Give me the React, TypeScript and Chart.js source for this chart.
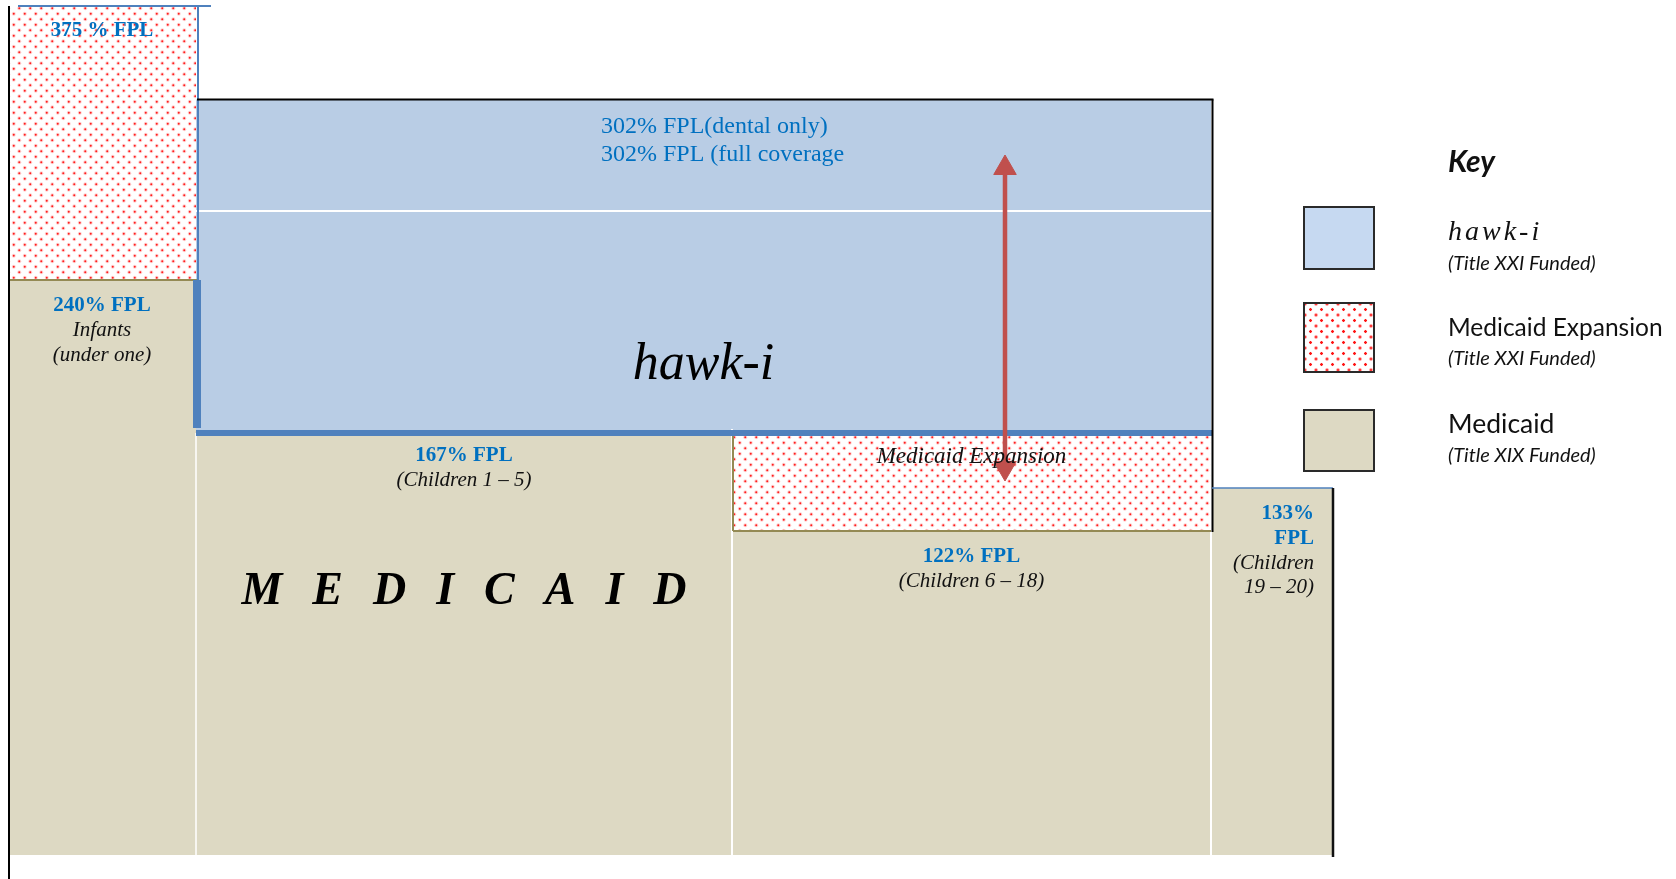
import React, { useEffect, useRef } from "react";
import { Chart, registerables } from "chart.js";

Chart.register(...registerables);

// ---- Data (schematic chart units; baseline = 0) ----
const groups = ["Infants", "Children 1 – 5", "Children 6 – 18", "Children 19 – 20"];
// column boundaries along the schematic width
const columnEdges = [0, 188, 724, 1203, 1325];
// top of the Medicaid (Title XIX) band per column
const medicaidTop = [575, 422, 324, 367];
// top of the Medicaid Expansion (Title XXI) band per column (null = none)
const expansionTop: (number | null)[] = [849, null, 422, null];
// hawk-i band (columns 1..2)
const hawkiColumns = [1, 2];
const hawkiBottom = 422;
const hawkiTop = 755.5;
const hawkiDentalSplit = 644;
// double arrow (x, bottom, top)
const arrowX = 997;
const arrowEnds = [387, 687];

// ---- Text ----
const fplLabels = ["240% FPL", "167% FPL", "122% FPL", "133%\nFPL"];
const groupLabels = ["Infants\n(under one)", "(Children 1 – 5)", "(Children 6 – 18)", "(Children\n19 – 20)"];
const expansionLabels = ["375 % FPL", "", "Medicaid Expansion", ""];
const hawkiNotes = ["302% FPL(dental only)", "302% FPL (full coverage"];
const programLabels = ["hawk-i", "MEDICAID"];

const legendTitle = "Key";
const legendNames = ["hawk-i", "Medicaid Expansion", "Medicaid"];
const legendSubs = ["(Title XXI Funded)", "(Title XXI Funded)", "(Title XIX Funded)"];

// ---- Styles ----
const BEIGE = "#ddd9c3";
const HAWK = "#b9cde5";
const HAWK_KEY = "#c6d9f1";
const BLUE_LINE = "#4f81bd";
const OLIVE = "#948a54";
const ARROW = "#c0504d";
const TEXT_BLUE = "#0070c0";
const SERIF = "'Liberation Serif', 'Times New Roman', serif";
const SANS = "Lato, 'Open Sans', sans-serif";

function makeDotPattern(): CanvasPattern | string {
  const tile = document.createElement("canvas");
  tile.width = 11;
  tile.height = 11;
  const c = tile.getContext("2d");
  if (!c) return "#ffcccc";
  c.fillStyle = "#ffffff";
  c.fillRect(0, 0, 11, 11);
  const dot = (x: number, y: number) => {
    c.fillStyle = "rgba(255,0,0,0.18)";
    c.beginPath();
    c.arc(x, y, 2.0, 0, Math.PI * 2);
    c.fill();
    c.fillStyle = "rgba(255,20,20,0.95)";
    c.beginPath();
    c.arc(x, y, 1.0, 0, Math.PI * 2);
    c.fill();
  };
  dot(2.75, 2.75);
  dot(8.25, 8.25);
  const p = c.createPattern(tile, "repeat");
  return p || "#ffcccc";
}

function rect(x0: number, x1: number, y0: number, y1: number, color: any, label: string) {
  return {
    label,
    data: [
      { x: x0, y: y1 },
      { x: x1, y: y1 },
    ],
    fill: { value: y0 },
    backgroundColor: color,
    borderColor: "rgba(0,0,0,0)",
    borderWidth: 0,
    pointRadius: 0,
    clip: false,
  };
}

function seg(x0: number, y0: number, x1: number, y1: number, color: string, width: number) {
  return {
    label: "",
    data: [
      { x: x0, y: y0 },
      { x: x1, y: y1 },
    ],
    fill: false,
    borderColor: color,
    borderWidth: width,
    borderCapStyle: "butt",
    pointRadius: 0,
    clip: false,
  };
}

const labelPlugin = {
  id: "schematicLabels",
  afterDatasetsDraw(chart: any) {
    const { ctx, scales } = chart;
    const xs = scales.x;
    const ys = scales.y;
    const px = (v: number) => xs.getPixelForValue(v);
    const py = (v: number) => ys.getPixelForValue(v);
    const lines = (
      text: string[],
      x: number,
      y: number,
      fonts: string[],
      colors: string[],
      align: CanvasTextAlign,
      lh: number
    ) => {
      text.forEach((t, i) => {
        ctx.font = fonts[i];
        ctx.fillStyle = colors[i];
        ctx.textAlign = align;
        ctx.textBaseline = "middle";
        ctx.fillText(t, x, y + i * lh);
      });
    };
    ctx.save();
    const bold = `bold 21px ${SERIF}`;
    const ital = `italic 21px ${SERIF}`;
    // column FPL labels
    for (let i = 0; i < groups.length; i++) {
      const fpl = fplLabels[i].split("\n");
      const grp = groupLabels[i].split("\n");
      const all = [...fpl, ...grp];
      const fonts = [...fpl.map(() => bold), ...grp.map(() => ital)];
      const colors = [...fpl.map(() => TEXT_BLUE), ...grp.map(() => "#111111")];
      const top = py(medicaidTop[i]) + (i === 1 ? 23 : 26);
      if (i === groups.length - 1) {
        lines(all, px(columnEdges[i + 1]) - 19, top, fonts, colors, "right", 24.5);
      } else {
        const cx = px((columnEdges[i] + columnEdges[i + 1]) / 2);
        lines(all, cx, top, fonts, colors, "center", 24.5);
      }
    }
    // expansion labels
    expansionLabels.forEach((t, i) => {
      const top = expansionTop[i];
      if (!t || top === null) return;
      const cx = px((columnEdges[i] + columnEdges[i + 1]) / 2);
      const isFpl = t.indexOf("FPL") >= 0;
      lines(
        [t],
        cx,
        py(top) + (isFpl ? 25 : 24),
        [isFpl ? `bold 21px ${SERIF}` : `italic 23px ${SERIF}`],
        [isFpl ? TEXT_BLUE : "#111111"],
        "center",
        0
      );
    });
    // hawk-i notes
    lines(
      hawkiNotes,
      px(593),
      py(hawkiTop) + 27,
      [`24px ${SERIF}`, `24px ${SERIF}`],
      [TEXT_BLUE, TEXT_BLUE],
      "left",
      28
    );
    // hawk-i big label
    const hx = px((columnEdges[hawkiColumns[0]] + columnEdges[hawkiColumns[1] + 1]) / 2);
    lines([programLabels[0]], hx, py(490), [`italic 52px ${SERIF}`], ["#000000"], "center", 0);
    // MEDICAID spaced letters
    ctx.font = `bold italic 46px ${SERIF}`;
    ctx.fillStyle = "#000000";
    ctx.textAlign = "left";
    ctx.textBaseline = "middle";
    const word = programLabels[1];
    const spacing = 30;
    let total = 0;
    for (const ch of word) total += ctx.measureText(ch).width;
    total += spacing * (word.length - 1);
    let cursor = px((columnEdges[1] + columnEdges[2]) / 2) - total / 2;
    const my = py(263);
    for (const ch of word) {
      ctx.fillText(ch, cursor, my);
      cursor += ctx.measureText(ch).width + spacing;
    }
    ctx.restore();
  },
};

export default function App() {
  const canvasRef = useRef<HTMLCanvasElement | null>(null);

  useEffect(() => {
    const canvas = canvasRef.current;
    if (!canvas) return;
    const dots = makeDotPattern();
    const e = columnEdges;

    const back: any[] = [];
    // Medicaid bands
    for (let i = 0; i < groups.length; i++) {
      back.push(rect(e[i], e[i + 1], 0, medicaidTop[i], BEIGE, "Medicaid"));
    }
    // Medicaid expansion bands
    for (let i = 0; i < groups.length; i++) {
      const t = expansionTop[i];
      if (t !== null) back.push(rect(e[i], e[i + 1], medicaidTop[i], t, dots, "Medicaid Expansion"));
    }
    // hawk-i band
    back.push(rect(e[hawkiColumns[0]], e[hawkiColumns[1] + 1], hawkiBottom, hawkiTop, HAWK, "hawk-i"));

    // separators and borders
    back.push(seg(e[1], 0, e[1], hawkiBottom, "#ffffff", 1.5));
    back.push(seg(e[2], 0, e[2], hawkiBottom + 4, "#ffffff", 2));
    back.push(seg(e[3], 0, e[3], medicaidTop[3], "#ffffff", 2));
    back.push(seg(e[1], hawkiDentalSplit, e[3], hawkiDentalSplit, "#ffffff", 2));
    // olive lines under expansion bands
    back.push(seg(e[0], medicaidTop[0], e[1] + 1, medicaidTop[0], OLIVE, 2));
    back.push(seg(e[2] + 1, medicaidTop[2], e[3], medicaidTop[2], OLIVE, 2));
    back.push(seg(e[2] + 1, medicaidTop[2], e[2] + 1, hawkiBottom, OLIVE, 2));
    // blue edges of infant expansion
    back.push(seg(e[1] + 2, medicaidTop[0], e[1] + 2, expansionTop[0] as number, BLUE_LINE, 2));
    back.push(seg(e[0] + 10, expansionTop[0] as number, e[1] + 15, expansionTop[0] as number, BLUE_LINE, 2));
    // hawk-i borders
    back.push(seg(e[1] + 1, hawkiBottom + 5, e[1] + 1, medicaidTop[0], BLUE_LINE, 8));
    back.push(seg(e[1], hawkiBottom, e[3] + 1, hawkiBottom, BLUE_LINE, 6));
    back.push(seg(e[1] + 1, hawkiTop, e[3] + 2.5, hawkiTop, "#000000", 2));
    back.push(seg(e[3] + 1.5, hawkiTop, e[3] + 1.5, medicaidTop[2] - 1, "#000000", 2));
    // 19-20 column borders
    back.push(seg(e[3] + 1, medicaidTop[3], e[4], medicaidTop[3], BLUE_LINE, 1.5));
    back.push(seg(e[4], medicaidTop[3], e[4], -2, "#111111", 2.5));
    // left axis line
    back.push(seg(e[0] + 1, -24, e[0] + 1, expansionTop[0] as number, "#000000", 2));
    // double arrow
    back.push({
      label: "arrow",
      data: [
        { x: arrowX, y: arrowEnds[0] },
        { x: arrowX, y: arrowEnds[1] },
      ],
      fill: false,
      borderColor: ARROW,
      borderWidth: 4.5,
      pointStyle: "triangle",
      pointRadius: 13,
      pointRotation: [180, 0],
      pointBackgroundColor: ARROW,
      pointBorderColor: ARROW,
      pointBorderWidth: 1,
      clip: false,
    });

    const datasets = back.slice().reverse();

    const chart = new Chart(canvas, {
      type: "line",
      data: { datasets },
      options: {
        animation: false,
        responsive: true,
        maintainAspectRatio: false,
        events: [],
        layout: { autoPadding: false, padding: { left: 8, right: 342, top: 6, bottom: 0 } },
        scales: {
          x: { type: "linear", min: 0, max: 1326, display: false },
          y: { type: "linear", min: -24, max: 849, display: false },
        },
        elements: { line: { tension: 0 } },
        plugins: {
          legend: { display: false },
          tooltip: { enabled: false },
        },
      },
      plugins: [labelPlugin],
    } as any);
    return () => chart.destroy();
  }, []);

  const dotCss: React.CSSProperties = {
    backgroundColor: "#ffffff",
    backgroundImage:
      "radial-gradient(circle, #ff1414 1.0px, rgba(255,0,0,0.2) 1.5px, rgba(255,255,255,0) 2.1px), radial-gradient(circle, #ff1414 1.0px, rgba(255,0,0,0.2) 1.5px, rgba(255,255,255,0) 2.1px)",
    backgroundSize: "11px 11px, 11px 11px",
    backgroundPosition: "0 0, 5.5px 5.5px",
  };
  const boxFills: React.CSSProperties[] = [{ background: HAWK_KEY }, dotCss, { background: BEIGE }];
  const rows = [
    { boxTop: 206, boxH: 64, titleY: 231, subY: 262, size: 28 },
    { boxTop: 302, boxH: 71, titleY: 327, subY: 357, size: 24.5 },
    { boxTop: 409, boxH: 63, titleY: 423, subY: 454, size: 26.5 },
  ];
  const textAt = (y: number, lh: number): React.CSSProperties => ({
    position: "absolute",
    left: 1448,
    top: y - lh / 2,
    height: lh,
    lineHeight: `${lh}px`,
    whiteSpace: "nowrap",
    color: "#111111",
  });

  return (
    <div
      style={{
        position: "fixed",
        left: 0,
        top: 0,
        width: 1676,
        height: 879,
        background: "#ffffff",
        overflow: "hidden",
      }}
    >
      <div style={{ position: "absolute", left: 0, top: 0, width: 1676, height: 879 }}>
        <canvas ref={canvasRef} style={{ display: "block" }} />
      </div>
      <div style={{ ...textAt(160, 36), fontFamily: SANS, fontWeight: 700, fontStyle: "italic", fontSize: 30 }}>
        {legendTitle}
      </div>
      {legendNames.map((name, i) => (
        <React.Fragment key={name}>
          <div
            style={{
              position: "absolute",
              left: 1303,
              top: rows[i].boxTop,
              width: 72,
              height: rows[i].boxH,
              boxSizing: "border-box",
              border: "2px solid #2a2a2a",
              ...boxFills[i],
            }}
          />
          <div
            style={{
              ...textAt(rows[i].titleY, 34),
              fontFamily: i === 0 ? SERIF : SANS,
              fontStyle: i === 0 ? "italic" : "normal",
              fontSize: rows[i].size,
              letterSpacing: i === 0 ? 3 : 0,
            }}
          >
            {name}
          </div>
          <div style={{ ...textAt(rows[i].subY, 26), fontFamily: SANS, fontStyle: "italic", fontSize: 20 }}>
            {legendSubs[i]}
          </div>
        </React.Fragment>
      ))}
    </div>
  );
}
